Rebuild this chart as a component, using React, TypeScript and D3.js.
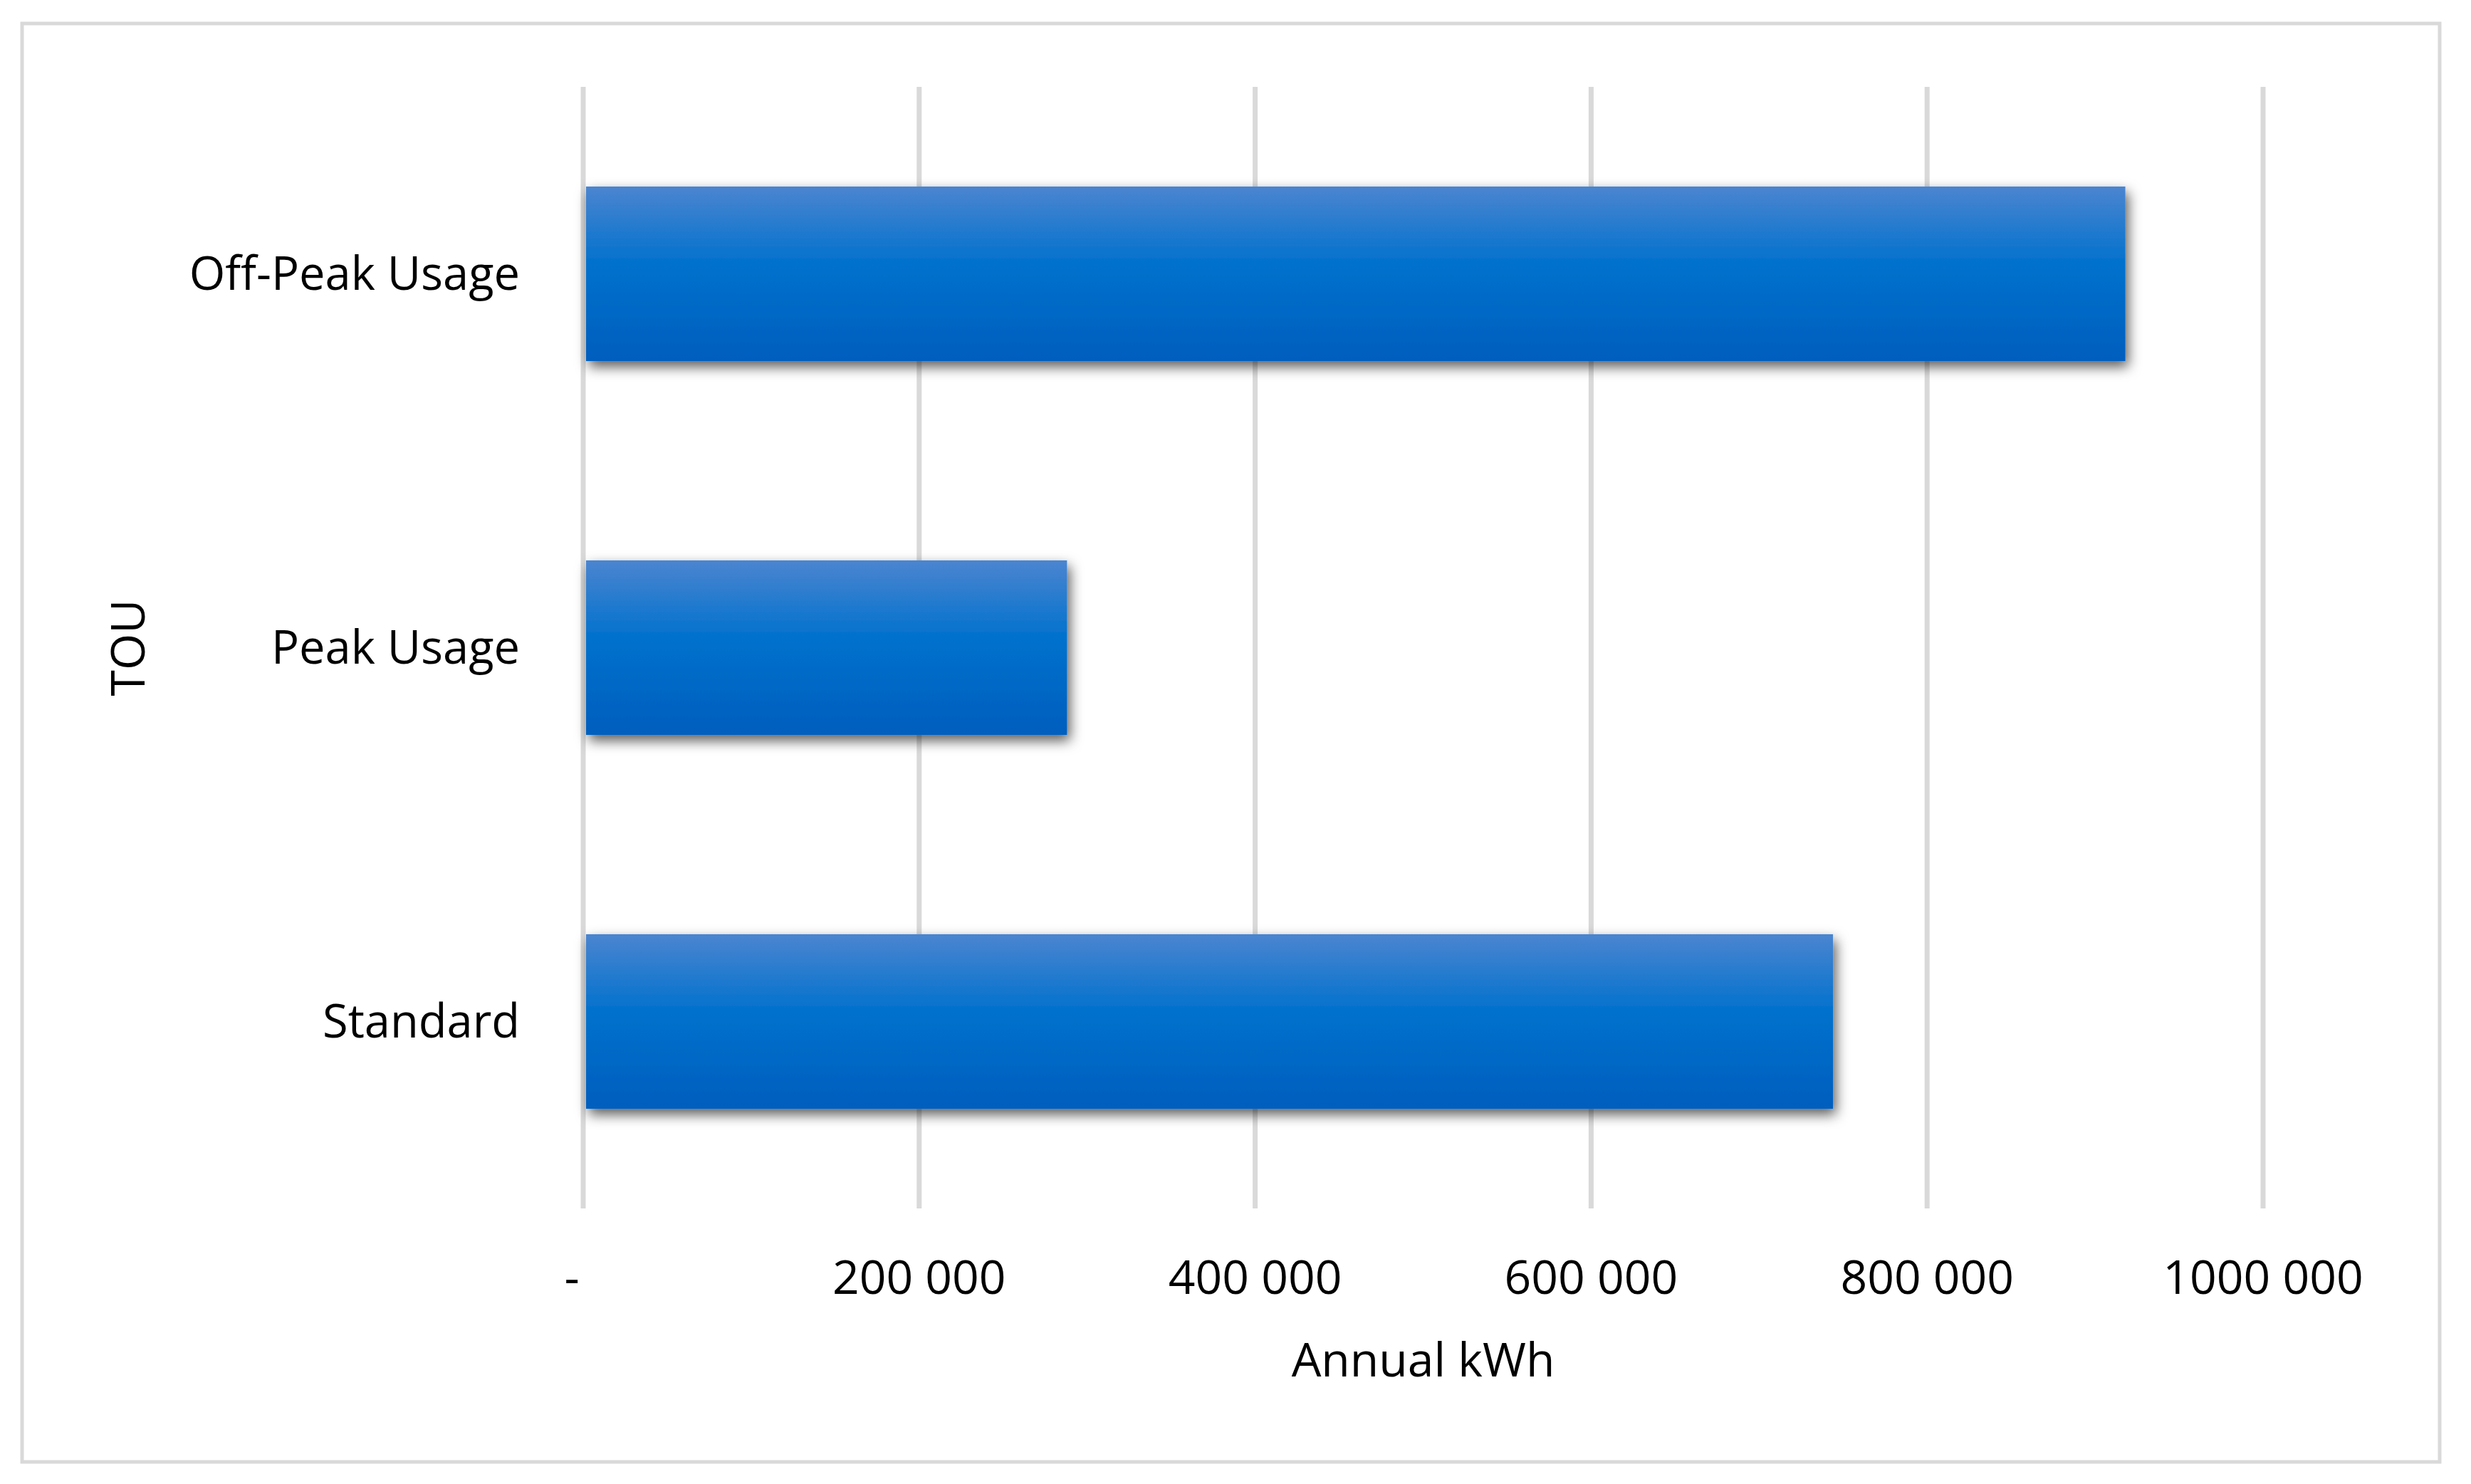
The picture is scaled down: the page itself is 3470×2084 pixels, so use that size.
import React, { useEffect, useRef } from "react";
import * as d3 from "d3";

const categories: string[] = ["Off-Peak Usage", "Peak Usage", "Standard"];
const values: number[] = [918000, 288000, 744000];
const tickValues: number[] = [0, 200000, 400000, 600000, 800000, 1000000];
const tickLabels: string[] = ["-", "200 000", "400 000", "600 000", "800 000", "1000 000"];
const xTitle = "Annual kWh";
const yTitle = "TOU";

const W = 3470;
const H = 2084;
const FONT = "'Open Sans', 'Noto Sans', sans-serif";

export default function App() {
  const ref = useRef<SVGSVGElement | null>(null);

  useEffect(() => {
    const svg = d3.select(ref.current);
    svg.selectAll("*").remove();

    const plot = { left: 819, right: 3178, top: 122, bottom: 1697 };

    const x = d3.scaleLinear().domain([0, 1000000]).range([plot.left, plot.right]);
    const y = d3
      .scaleBand<string>()
      .domain(categories)
      .range([plot.top, plot.bottom])
      .paddingInner(0.533)
      .paddingOuter(0.2665);

    const defs = svg.append("defs");
    const grad = defs
      .append("linearGradient")
      .attr("id", "barGrad")
      .attr("x1", 0)
      .attr("y1", 0)
      .attr("x2", 0)
      .attr("y2", 1);
    grad.append("stop").attr("offset", "0%").attr("stop-color", "#4b85d0");
    grad.append("stop").attr("offset", "45%").attr("stop-color", "#0071cd");
    grad.append("stop").attr("offset", "100%").attr("stop-color", "#005ebe");

    const filter = defs
      .append("filter")
      .attr("id", "shadow")
      .attr("x", "-10%")
      .attr("y", "-30%")
      .attr("width", "130%")
      .attr("height", "170%");
    filter
      .append("feDropShadow")
      .attr("dx", 4)
      .attr("dy", 8)
      .attr("stdDeviation", 9)
      .attr("flood-color", "#000")
      .attr("flood-opacity", 0.65);

    svg
      .append("rect")
      .attr("x", 0)
      .attr("y", 0)
      .attr("width", W)
      .attr("height", H)
      .attr("fill", "#fff");
    svg
      .append("rect")
      .attr("x", 31)
      .attr("y", 33)
      .attr("width", 3395)
      .attr("height", 2020)
      .attr("fill", "#fff")
      .attr("stroke", "#d9d9d9")
      .attr("stroke-width", 5);

    svg
      .append("g")
      .selectAll("line")
      .data(tickValues)
      .join("line")
      .attr("x1", (d) => x(d))
      .attr("x2", (d) => x(d))
      .attr("y1", plot.top)
      .attr("y2", plot.bottom)
      .attr("stroke", "#d9d9d9")
      .attr("stroke-width", 7);

    svg
      .append("g")
      .selectAll("rect")
      .data(values)
      .join("rect")
      .attr("x", x(0) + 4)
      .attr("y", (_d, i) => y(categories[i]) as number)
      .attr("width", (d) => x(d) - x(0) - 4)
      .attr("height", y.bandwidth())
      .attr("fill", "url(#barGrad)")
      .attr("filter", "url(#shadow)");

    svg
      .append("g")
      .selectAll("text")
      .data(tickValues)
      .join("text")
      .attr("x", (d, i) => (i === 0 ? x(d) - 16 : x(d)))
      .attr("y", 1817)
      .attr("text-anchor", "middle")
      .attr("font-family", FONT)
      .attr("font-size", 66)
      .attr("fill", "#000")
      .text((_d, i) => tickLabels[i]);

    svg
      .append("g")
      .selectAll("text")
      .data(categories)
      .join("text")
      .attr("x", 730)
      .attr("y", (d) => (y(d) as number) + y.bandwidth() / 2)
      .attr("dy", "0.35em")
      .attr("text-anchor", "end")
      .attr("font-family", FONT)
      .attr("font-size", 65)
      .attr("fill", "#000")
      .text((d) => d);

    svg
      .append("text")
      .attr("x", (plot.left + plot.right) / 2)
      .attr("y", 1933)
      .attr("text-anchor", "middle")
      .attr("font-family", FONT)
      .attr("font-size", 66)
      .attr("fill", "#000")
      .text(xTitle);

    svg
      .append("text")
      .attr("transform", `translate(203, ${(plot.top + plot.bottom) / 2}) rotate(-90)`)
      .attr("text-anchor", "middle")
      .attr("font-family", FONT)
      .attr("font-size", 66)
      .attr("fill", "#000")
      .text(yTitle);
  }, []);

  return (
    <svg
      ref={ref}
      width={W}
      height={H}
      style={{ position: "absolute", left: 0, top: 0, display: "block" }}
    />
  );
}
